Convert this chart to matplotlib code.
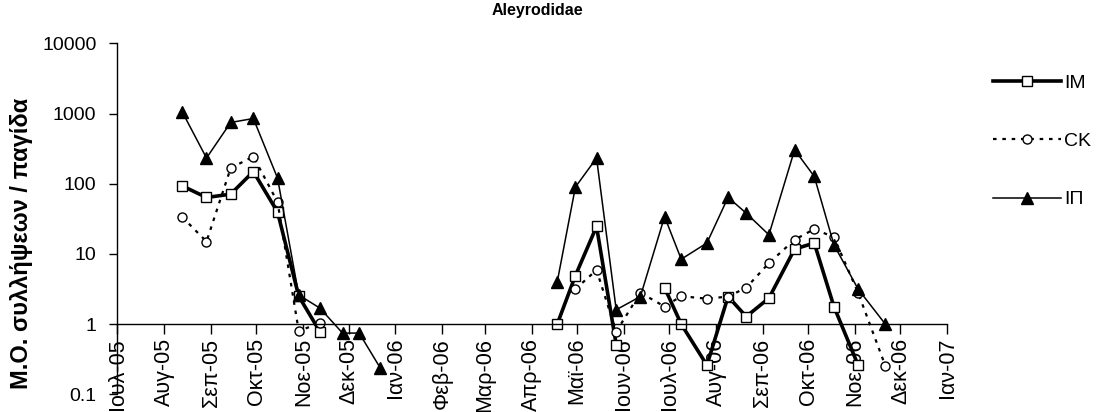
import numpy as np
import matplotlib
matplotlib.use("Agg")
import matplotlib.pyplot as plt
import matplotlib.dates as mdates
from matplotlib.ticker import FixedLocator, FixedFormatter, NullLocator

plt.rcParams['font.family'] = ['Liberation Sans', 'DejaVu Sans']

# Sampling dates, one array per season
dates_2005 = ['2005-08-13', '2005-08-29', '2005-09-14', '2005-09-29', '2005-10-15',
              '2005-10-29', '2005-11-12', '2005-11-27', '2005-12-08', '2005-12-22']
dates_2006 = ['2006-04-18', '2006-04-30', '2006-05-14', '2006-05-27', '2006-06-12',
              '2006-06-28', '2006-07-09', '2006-07-26', '2006-08-09', '2006-08-21',
              '2006-09-05', '2006-09-22', '2006-10-05', '2006-10-18', '2006-11-03',
              '2006-11-21']

nan = np.nan
# Mean captures per trap (NaN = nothing caught, not drawn on log scale)
im_2005 = [93, 63.6, 71, 149, 39.4, 2.5, 0.78, nan, nan, nan]
im_2006 = [1.0, 4.9, 24.6, 0.51, nan, 3.3, 1.0, 0.26, 2.47, 1.28,
           2.34, 11.7, 14.3, 1.78, 0.26, nan]

ck_2005 = [33.4, 15, 167, 244, 54.7, 0.8, 1.03, nan, nan, nan]
ck_2006 = [nan, 3.15, 5.9, 0.78, 2.8, 1.78, 2.5, 2.3, 2.47, 3.3,
           7.4, 15.9, 22.6, 17.3, 2.8, 0.255]

ip_2005 = [1050, 232, 745, 849, 120, 2.6, 1.69, 0.745, 0.745, 0.236]
ip_2006 = [4.0, 89.5, 232, 1.6, 2.47, 34, 8.4, 14.3, 64, 38,
           18.7, 304, 127, 13.5, 3.15, 1.0]

month_starts = ['2005-07-01', '2005-08-01', '2005-09-01', '2005-10-01', '2005-11-01',
                '2005-12-01', '2006-01-01', '2006-02-01', '2006-03-01', '2006-04-01',
                '2006-05-01', '2006-06-01', '2006-07-01', '2006-08-01', '2006-09-01',
                '2006-10-01', '2006-11-01', '2006-12-01', '2007-01-01']
month_labels = ['Ιουλ-05', 'Αυγ-05', 'Σεπ-05', 'Οκτ-05', 'Νοε-05', 'Δεκ-05',
                'Ιαν-06', 'Φεβ-06', 'Μαρ-06', 'Απρ-06', 'Μαϊ-06', 'Ιουν-06',
                'Ιουλ-06', 'Αυγ-06', 'Σεπ-06', 'Οκτ-06', 'Νοε-06', 'Δεκ-06', 'Ιαν-07']

y_ticks = [0.1, 1, 10, 100, 1000, 10000]
y_tick_labels = ['0.1', '1', '10', '100', '1000', '10000']

series_names = ['IM', 'CK', 'IΠ']


def to_num(ds):
    return mdates.datestr2num(ds)


fig = plt.figure(figsize=(11.01, 4.12), dpi=100)
ax = fig.add_axes([117.3 / 1101, 1 - 394.3 / 412, 830 / 1101, 351 / 412])

styles = {
    'IM': dict(color='black', lw=2.6, marker='s', ms=7.5, mfc='white', mec='black',
               mew=1.0, ls='-'),
    'CK': dict(color='black', lw=1.6, marker='o', ms=6.5, mfc='white', mec='black',
               mew=1.0, ls=(0, (1.6, 2.6))),
    'IΠ': dict(color='black', lw=1.1, marker='^', ms=8.5, mfc='black', mec='black',
               mew=1.0, ls='-'),
}
data = {
    'IM': (im_2005, im_2006),
    'CK': (ck_2005, ck_2006),
    'IΠ': (ip_2005, ip_2006),
}

handles = []
for name in series_names:
    v05, v06 = data[name]
    h, = ax.plot(to_num(dates_2005), v05, label=name, **styles[name])
    ax.plot(to_num(dates_2006), v06, **styles[name])
    handles.append(h)

ax.set_yscale('log')
ax.set_ylim(0.1, 10000)
ax.set_xlim(to_num('2005-07-01'), to_num('2007-01-01'))

ax.yaxis.set_major_locator(FixedLocator(y_ticks))
ax.yaxis.set_major_formatter(FixedFormatter(y_tick_labels))
ax.yaxis.set_minor_locator(NullLocator())

ax.xaxis.set_major_locator(FixedLocator(to_num(month_starts)))
ax.xaxis.set_major_formatter(FixedFormatter(month_labels))
ax.xaxis.set_minor_locator(NullLocator())

ax.spines['top'].set_visible(False)
ax.spines['right'].set_visible(False)
ax.spines['bottom'].set_position(('data', 1))
ax.spines['bottom'].set_linewidth(1.0)
ax.spines['left'].set_linewidth(1.0)

ax.tick_params(axis='y', direction='out', length=6, width=1.0, pad=9, labelsize=14)
ax.tick_params(axis='x', direction='out', length=7, width=1.0, pad=3, labelsize=15.5)
for lbl in ax.get_xticklabels():
    lbl.set_rotation(90)
    lbl.set_ha('center')
    lbl.set_va('top')

fig.text(537 / 1101, 1 - 11 / 412, 'Aleyrodidae', ha='center', va='center',
         fontsize=11.5, fontweight='bold')
fig.text(22 / 1101, 1 - 243 / 412, 'Μ.Ο. συλλήψεων / παγίδα', ha='center',
         va='center', rotation=90, fontsize=17, fontweight='bold')

fig.legend(handles=handles, labels=series_names, loc='upper left',
           bbox_to_anchor=(993 / 1101, 1 - 74 / 412), frameon=False,
           fontsize=14, handlelength=3.5, handletextpad=0.15,
           labelspacing=2.1, borderpad=0, borderaxespad=0, numpoints=1)

fig.savefig('out.png', dpi=100)
